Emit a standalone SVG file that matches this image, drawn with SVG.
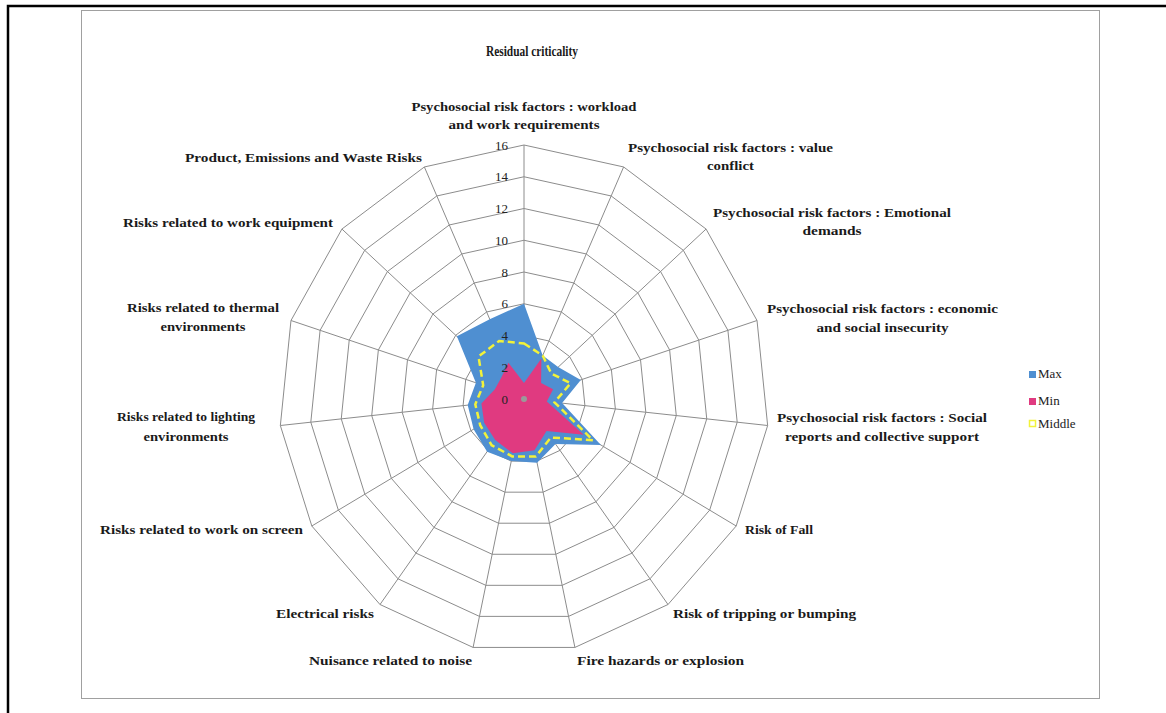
<svg xmlns="http://www.w3.org/2000/svg" xmlns:xlink="http://www.w3.org/1999/xlink" width="1166" height="713" viewBox="0 0 1166 713">
  <style>
    .lbl { font-family: "Liberation Serif", "Times New Roman", serif; font-weight: bold; font-size: 13px; fill: #1a1a1a; }
    .title { font-family: "Liberation Serif", "Times New Roman", serif; font-weight: bold; font-size: 15px; fill: #1a1a1a; }
    .tick { font-family: "Liberation Serif", "Times New Roman", serif; font-size: 13px; fill: #222; text-anchor: end; }
    .leg { font-family: "Liberation Serif", "Times New Roman", serif; font-size: 13px; fill: #222; }
    .ring { fill: none; stroke: #8c8c8c; stroke-width: 1; vector-effect: non-scaling-stroke; }
    .spoke { fill: none; stroke: #8c8c8c; stroke-width: 1; }
  </style>
  <defs>
    <!-- one grid ring per unit of value; scaled for each level -->
    <polygon id="ring" class="ring" points="0,-15.875 6.228,-14.502 11.379,-10.622 14.564,-4.905 15.228,1.659 13.261,7.9375 9.001,12.843 3.183,15.527 -3.183,15.527 -9.001,12.843 -13.261,7.9375 -15.228,1.659 -14.564,-4.905 -11.379,-10.622 -6.228,-14.502"/>
  </defs>
  <rect width="1166" height="713" fill="#ffffff"/>

  <!-- page border -->
  <path d="M8,713 V6 H1166" fill="none" stroke="#000" stroke-width="2.5"/>
  <!-- chart area -->
  <rect x="81.5" y="10.5" width="1018" height="688" fill="#fff" stroke="#a0a0a0" stroke-width="1"/>

  <text class="title" x="532" y="56" text-anchor="middle" textLength="92" lengthAdjust="spacingAndGlyphs">Residual criticality</text>

  <!-- grid -->
  <g id="grid">
    <use xlink:href="#ring" transform="translate(524 399) scale(2)"/>
    <use xlink:href="#ring" transform="translate(524 399) scale(4)"/>
    <use xlink:href="#ring" transform="translate(524 399) scale(6)"/>
    <use xlink:href="#ring" transform="translate(524 399) scale(8)"/>
    <use xlink:href="#ring" transform="translate(524 399) scale(10)"/>
    <use xlink:href="#ring" transform="translate(524 399) scale(12)"/>
    <use xlink:href="#ring" transform="translate(524 399) scale(14)"/>
    <use xlink:href="#ring" transform="translate(524 399) scale(16)"/>
    <path class="spoke" d="M524,399 L524,145 M524,399 L623.6,167 M524,399 L706.1,229 M524,399 L757,320.5 M524,399 L767.6,425.5 M524,399 L736.2,526 M524,399 L668,604.5 M524,399 L574.9,647.4 M524,399 L473.1,647.4 M524,399 L380,604.5 M524,399 L311.8,526 M524,399 L280.4,425.5 M524,399 L291,320.5 M524,399 L341.9,229 M524,399 L424.4,167"/>
  </g>

  <!-- data series -->
  <g id="series">
    <polygon id="max" fill="#4f8fd1" points="524,303.8 542.7,355.5 558.1,367.1 580.8,379.9 562.1,403.1 600.9,445 555.5,444 537.1,462.7 511.3,461.1 487.1,451.7 473.6,429.2 467.7,405.1 475.9,382.8 456.9,336.3 489.7,319.2"/>
    <polygon id="min" fill="#e03a80" points="524,383.1 541.4,358.4 541.1,383.1 553.1,389.2 546.8,401.5 583.7,434.7 546.5,431.1 534.5,450.2 512.9,453.3 495.2,440.1 484.2,422.8 481.4,403.6 494.9,389.2 501.2,377.8 508.4,362.7"/>
    <polygon id="middle" fill="none" stroke="#f2f23a" stroke-width="2.5" stroke-dasharray="7 4" points="524,343.4 542.7,355.5 551.3,373.5 570.6,383.3 554.5,402.3 593,440.3 551,437.5 535.8,456.4 512.2,456.4 491.6,445.2 480.2,425.2 475.3,404.3 483.2,385.3 478.5,356.5 499.1,341"/>
    <circle cx="524" cy="399" r="3" fill="#9a9a9a"/>
  </g>

  <!-- value scale -->
  <g id="scale">
    <text class="tick" x="508" y="403.5">0</text>
    <text class="tick" x="508" y="371.7">2</text>
    <text class="tick" x="508" y="340">4</text>
    <text class="tick" x="508" y="308.2">6</text>
    <text class="tick" x="508" y="276.5">8</text>
    <text class="tick" x="508" y="244.7">10</text>
    <text class="tick" x="508" y="213">12</text>
    <text class="tick" x="508" y="181.2">14</text>
    <text class="tick" x="508" y="149.5">16</text>
  </g>

  <!-- axis labels -->
  <g id="axis-labels">
    <g id="ax-workload">
      <text class="lbl" x="524" y="111" text-anchor="middle" textLength="225" lengthAdjust="spacingAndGlyphs">Psychosocial risk factors : workload</text>
      <text class="lbl" x="524" y="129" text-anchor="middle" textLength="151" lengthAdjust="spacingAndGlyphs">and work requirements</text>
    </g>
    <g id="ax-value">
      <text class="lbl" x="730.5" y="152" text-anchor="middle" textLength="205" lengthAdjust="spacingAndGlyphs">Psychosocial risk factors : value</text>
      <text class="lbl" x="730.5" y="170" text-anchor="middle" textLength="47" lengthAdjust="spacingAndGlyphs">conflict</text>
    </g>
    <g id="ax-emotional">
      <text class="lbl" x="832" y="217" text-anchor="middle" textLength="238" lengthAdjust="spacingAndGlyphs">Psychosocial risk factors : Emotional</text>
      <text class="lbl" x="832" y="235" text-anchor="middle" textLength="59" lengthAdjust="spacingAndGlyphs">demands</text>
    </g>
    <g id="ax-economic">
      <text class="lbl" x="882.5" y="313" text-anchor="middle" textLength="231" lengthAdjust="spacingAndGlyphs">Psychosocial risk factors : economic</text>
      <text class="lbl" x="882.5" y="332" text-anchor="middle" textLength="132" lengthAdjust="spacingAndGlyphs">and social insecurity</text>
    </g>
    <g id="ax-social">
      <text class="lbl" x="882" y="422" text-anchor="middle" textLength="210" lengthAdjust="spacingAndGlyphs">Psychosocial risk factors : Social</text>
      <text class="lbl" x="882" y="441" text-anchor="middle" textLength="194" lengthAdjust="spacingAndGlyphs">reports and collective support</text>
    </g>
    <g id="ax-fall">
      <text class="lbl" x="745" y="534" textLength="68" lengthAdjust="spacingAndGlyphs">Risk of Fall</text>
    </g>
    <g id="ax-tripping">
      <text class="lbl" x="673" y="618" textLength="183" lengthAdjust="spacingAndGlyphs">Risk of tripping or bumping</text>
    </g>
    <g id="ax-fire">
      <text class="lbl" x="577" y="665" textLength="167" lengthAdjust="spacingAndGlyphs">Fire hazards or explosion</text>
    </g>
    <g id="ax-noise">
      <text class="lbl" x="309" y="665" textLength="163" lengthAdjust="spacingAndGlyphs">Nuisance related to noise</text>
    </g>
    <g id="ax-electrical">
      <text class="lbl" x="276" y="618" textLength="98" lengthAdjust="spacingAndGlyphs">Electrical risks</text>
    </g>
    <g id="ax-screen">
      <text class="lbl" x="100" y="534" textLength="203" lengthAdjust="spacingAndGlyphs">Risks related to work on screen</text>
    </g>
    <g id="ax-lighting">
      <text class="lbl" x="186" y="421" text-anchor="middle" textLength="138" lengthAdjust="spacingAndGlyphs">Risks related to lighting</text>
      <text class="lbl" x="186" y="441" text-anchor="middle" textLength="85" lengthAdjust="spacingAndGlyphs">environments</text>
    </g>
    <g id="ax-thermal">
      <text class="lbl" x="203" y="312" text-anchor="middle" textLength="152" lengthAdjust="spacingAndGlyphs">Risks related to thermal</text>
      <text class="lbl" x="203" y="331" text-anchor="middle" textLength="85" lengthAdjust="spacingAndGlyphs">environments</text>
    </g>
    <g id="ax-equipment">
      <text class="lbl" x="123" y="227" textLength="210" lengthAdjust="spacingAndGlyphs">Risks related to work equipment</text>
    </g>
    <g id="ax-product">
      <text class="lbl" x="185" y="162" textLength="237" lengthAdjust="spacingAndGlyphs">Product, Emissions and Waste Risks</text>
    </g>
  </g>

  <!-- legend -->
  <g id="legend">
    <rect x="1029" y="371" width="7" height="7" fill="#4f8fd1"/>
    <text class="leg" x="1038" y="378">Max</text>
    <rect x="1029" y="398" width="7" height="7" fill="#e03a80"/>
    <text class="leg" x="1038" y="405">Min</text>
    <rect x="1029.5" y="420.5" width="6" height="6" fill="#fff" stroke="#f2f23a" stroke-width="1.5"/>
    <text class="leg" x="1038" y="428">Middle</text>
  </g>
</svg>
